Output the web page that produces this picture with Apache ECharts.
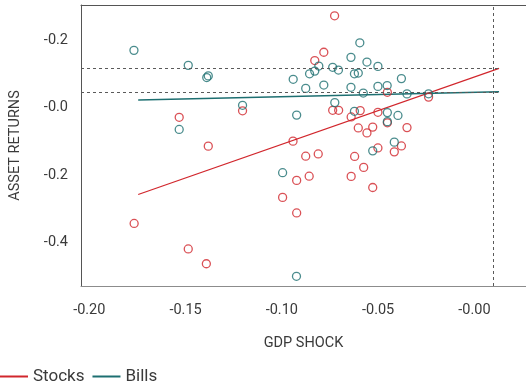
<!DOCTYPE html>
<html>
<head>
<meta charset="utf-8">
<script src="https://cdn.jsdelivr.net/npm/echarts@6/dist/echarts.min.js"></script>
<style>
  html, body { margin: 0; padding: 0; background: #fff; }
  #chart { width: 526px; height: 385px; }
</style>
</head>
<body>
<div id="chart"></div>
<script>
// GDP shock vs. asset returns, one point per episode: [gdpShock, assetReturn]
const stocksPoints = [
  [-0.0726, 0.2735], [-0.0782, 0.1652], [-0.0829, 0.1405], [-0.0452, 0.0461],
  [-0.0238, 0.0318], [-0.1533, -0.0283], [-0.1204, -0.0089], [-0.1382, -0.1140],
  [-0.1767, -0.3438], [-0.1486, -0.4196], [-0.1392, -0.4637], [-0.0736, -0.0074],
  [-0.0705, -0.0074], [-0.0640, -0.0271], [-0.0593, -0.0083], [-0.0501, -0.0134],
  [-0.0452, -0.0446], [-0.0603, -0.0598], [-0.0528, -0.0574], [-0.0558, -0.0747],
  [-0.0350, -0.0589], [-0.0942, -0.0991], [-0.0876, -0.1438], [-0.0811, -0.1372],
  [-0.0622, -0.1446], [-0.0575, -0.1771], [-0.0501, -0.1193], [-0.0416, -0.1310],
  [-0.0379, -0.1134], [-0.0996, -0.2664], [-0.0923, -0.2158], [-0.0858, -0.2033],
  [-0.0640, -0.2039], [-0.0923, -0.3125], [-0.0528, -0.2369]
];
const billsPoints = [
  [-0.1768, 0.1708], [-0.1486, 0.1262], [-0.1390, 0.0899], [-0.1382, 0.0949],
  [-0.1204, 0.0074], [-0.1533, -0.0643], [-0.0941, 0.0848], [-0.0876, 0.0577],
  [-0.0856, 0.1012], [-0.0829, 0.1092], [-0.0808, 0.1241], [-0.0736, 0.1205],
  [-0.0706, 0.1122], [-0.0782, 0.0676], [-0.0725, 0.0155], [-0.0641, 0.1500],
  [-0.0595, 0.1932], [-0.0558, 0.1360], [-0.0501, 0.1232], [-0.0623, 0.1012],
  [-0.0603, 0.1033], [-0.0641, 0.0610], [-0.0577, 0.0438], [-0.0501, 0.0637],
  [-0.0453, 0.0661], [-0.0379, 0.0869], [-0.0350, 0.0414], [-0.0238, 0.0417],
  [-0.0923, -0.0217], [-0.0623, -0.0104], [-0.0452, -0.0143], [-0.0397, -0.0226],
  [-0.0452, -0.0411], [-0.0416, -0.1021], [-0.0528, -0.1280], [-0.0996, -0.1929],
  [-0.0924, -0.5009]
];

// Fitted lines, start and end point
const stocksFit = [[-0.1746, -0.2577], [0.0128, 0.1173]];
const billsFit = [[-0.1746, 0.0229], [0.0128, 0.0476]];

// Axis ranges and tick labels
const xRange = [-0.2043, 0.0268];
const yRange = [-0.5298, 0.3057];
const xTickValues = [-0.2, -0.15, -0.1, -0.05, 0];
const xTickLabels = ['-0.20', '-0.15', '-0.10', '-0.05', '-0.00'];
const yTickValues = [-0.4, -0.2, 0, 0.2];
const yTickLabels = ['-0.4', '-0.2', '-0.0', '-0.2'];

const RED = '#d1262c';
const TEAL = '#1d6f71';
const GUIDE = '#5a5a5a';
const FONT = "Roboto, 'Liberation Sans', sans-serif";
const TEXT = '#3a3a3a';

function labelFor(values, labels) {
  return function (v) {
    for (let i = 0; i < values.length; i++) {
      if (Math.abs(values[i] - v) < 1e-9) return labels[i];
    }
    return '';
  };
}

// Dashed guides: vertical at the fit end, horizontal at each fit end value
const guideX = stocksFit[1][0];
const guideLines = [
  { xAxis: guideX },
  [{ coord: [xRange[0], stocksFit[1][1]] }, { coord: [guideX, stocksFit[1][1]] }],
  [{ coord: [xRange[0], billsFit[1][1]] }, { coord: [guideX, billsFit[1][1]] }]
];

const chart = echarts.init(document.getElementById('chart'), null, { renderer: 'canvas' });

chart.setOption({
  animation: false,
  backgroundColor: '#fff',
  textStyle: { fontFamily: FONT },
  grid: { left: 80, right: 0, top: 5, bottom: 99 },
  legend: {
    left: 0,
    top: 368,
    padding: 0,
    itemWidth: 28,
    itemHeight: 2,
    itemGap: 8,
    icon: 'rect',
    textStyle: { fontFamily: FONT, fontSize: 17, color: TEXT },
    data: ['Stocks', 'Bills']
  },
  xAxis: [{
    type: 'value',
    min: xRange[0],
    max: xRange[1],
    name: 'GDP SHOCK',
    nameLocation: 'middle',
    nameGap: 50,
    nameTextStyle: { fontFamily: FONT, fontSize: 14.5, color: TEXT },
    axisLine: { show: true, onZero: false, lineStyle: { color: '#8c8c8c', width: 1 } },
    axisTick: { show: false },
    splitLine: { show: false },
    axisLabel: {
      customValues: xTickValues,
      formatter: labelFor(xTickValues, xTickLabels),
      fontFamily: FONT, fontSize: 14.5, color: TEXT, margin: 17
    }
  }, {
    type: 'value',
    position: 'top',
    min: xRange[0],
    max: xRange[1],
    axisLine: { show: true, onZero: false, lineStyle: { color: '#555', width: 1 } },
    axisTick: { show: false },
    axisLabel: { show: false },
    splitLine: { show: false }
  }],
  yAxis: {
    type: 'value',
    min: yRange[0],
    max: yRange[1],
    name: 'ASSET RETURNS',
    nameLocation: 'middle',
    nameGap: 58,
    nameTextStyle: { fontFamily: FONT, fontSize: 14.5, color: TEXT },
    axisLine: { show: true, onZero: false, lineStyle: { color: '#555', width: 1 } },
    axisTick: { show: false },
    splitLine: { show: false },
    axisLabel: {
      customValues: yTickValues,
      formatter: labelFor(yTickValues, yTickLabels),
      fontFamily: FONT, fontSize: 14.5, color: TEXT, margin: 13
    }
  },
  series: [
    {
      name: 'Stocks',
      type: 'line',
      data: stocksFit,
      color: RED,
      symbol: 'none',
      lineStyle: { color: RED, width: 1.2 },
      z: 3
    },
    {
      name: 'Bills',
      type: 'line',
      data: billsFit,
      color: TEAL,
      symbol: 'none',
      lineStyle: { color: TEAL, width: 1.5 },
      z: 3,
      markLine: {
        silent: true,
        symbol: ['none', 'none'],
        label: { show: false },
        lineStyle: { color: GUIDE, type: [3, 3], width: 1 },
        data: guideLines
      }
    },
    {
      name: 'stocksScatter',
      type: 'scatter',
      data: stocksPoints,
      symbol: 'circle',
      symbolSize: 8,
      itemStyle: { color: 'rgba(0,0,0,0)', borderColor: RED, borderWidth: 1.3 },
      z: 4
    },
    {
      name: 'billsScatter',
      type: 'scatter',
      data: billsPoints,
      symbol: 'circle',
      symbolSize: 8,
      itemStyle: { color: 'rgba(0,0,0,0)', borderColor: TEAL, borderWidth: 1.3 },
      z: 4
    }
  ]
});
</script>
</body>
</html>
